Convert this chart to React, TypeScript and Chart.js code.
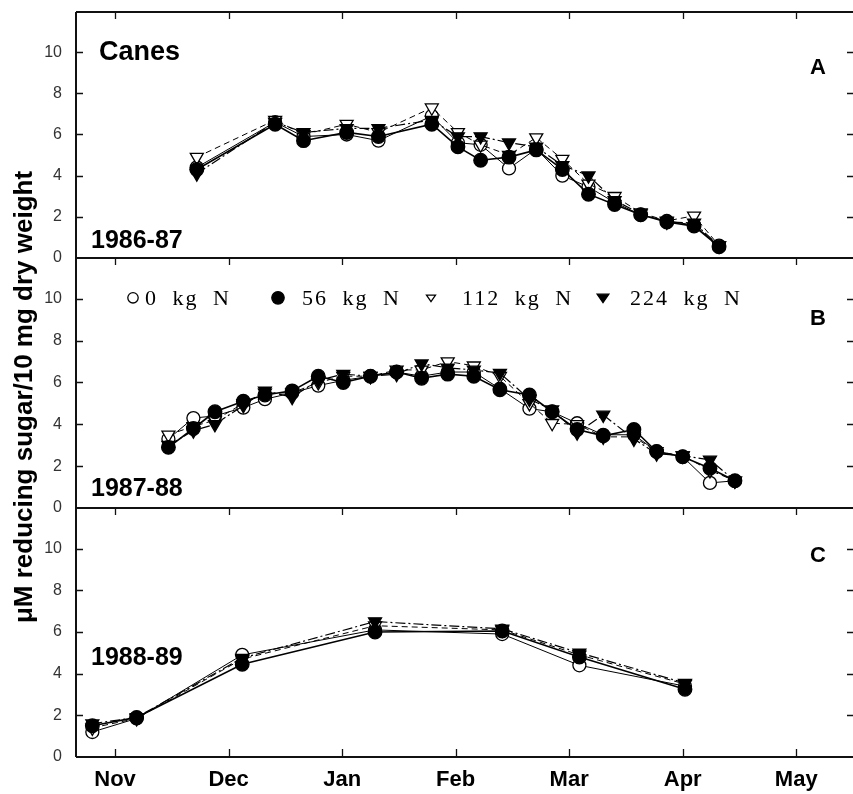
import React, { useEffect, useRef } from "react";
import { Chart, registerables } from "chart.js";
Chart.register(...registerables);

// ---- axis / tick labels ----
const monthLabels = ["Nov", "Dec", "Jan", "Feb", "Mar", "Apr", "May"];
const monthTicks = [0, 1, 2, 3, 4, 5, 6];
const yTickValues = [0, 2, 4, 6, 8, 10];
const seriesNames = ["0 kg N", "56 kg N", "112 kg N", "224 kg N"];
const yTitle = "\u03bcM reducing sugar/10 mg dry weight";
const panelYears = ["1986-87", "1987-88", "1988-89"];
const panelLetters = ["A", "B", "C"];

// ---- Panel A: 1986-87 (x in months after Nov 1) ----
const datesA = [0.72, 1.41, 1.66, 2.04, 2.32, 2.79, 3.02, 3.22, 3.47, 3.71, 3.94, 4.17, 4.4, 4.63, 4.86, 5.1, 5.32];
const a0 = [4.4, 6.6, 5.9, 6.0, 5.7, 6.9, 5.6, 5.5, 4.35, 5.3, 4.0, 3.45, 2.7, 2.1, 1.8, 1.6, 0.6];
const a56 = [4.3, 6.5, 5.7, 6.1, 5.9, 6.5, 5.4, 4.75, 4.9, 5.25, 4.3, 3.1, 2.6, 2.1, 1.75, 1.55, 0.55];
const a112 = [4.9, 6.7, 6.0, 6.5, 6.1, 7.3, 6.1, 5.5, 5.0, 5.85, 4.8, 3.6, 3.0, 2.2, 1.8, 2.05, 0.6];
const a224 = [4.1, 6.6, 6.1, 6.3, 6.3, 6.7, 5.9, 5.9, 5.6, 5.4, 4.5, 4.0, 2.8, 2.15, 1.75, 1.7, 0.6];

// ---- Panel B: 1987-88 ----
const datesB = [0.47, 0.69, 0.88, 1.13, 1.32, 1.56, 1.79, 2.01, 2.25, 2.48, 2.7, 2.93, 3.16, 3.39, 3.65, 3.85, 4.07, 4.3, 4.57, 4.77, 5.0, 5.24, 5.46];
const b0 = [3.3, 4.3, 4.4, 4.8, 5.2, 5.5, 5.85, 6.1, 6.3, 6.5, 6.3, 6.5, 6.5, 5.7, 4.75, 4.6, 4.05, 3.5, 3.5, 2.7, 2.45, 1.2, 1.3];
const b56 = [2.9, 3.8, 4.6, 5.1, 5.4, 5.6, 6.3, 6.0, 6.3, 6.5, 6.2, 6.4, 6.3, 5.65, 5.4, 4.6, 3.75, 3.45, 3.75, 2.7, 2.45, 1.9, 1.3];
const b112 = [3.5, 3.9, 4.2, 5.0, 5.5, 5.5, 6.0, 6.3, 6.3, 6.6, 6.6, 7.0, 6.8, 6.3, 5.0, 4.05, 4.0, 3.4, 3.4, 2.7, 2.5, 1.8, 1.3];
const b224 = [3.0, 3.7, 4.0, 4.9, 5.6, 5.3, 6.1, 6.4, 6.3, 6.4, 6.9, 6.7, 6.6, 6.45, 5.2, 4.7, 3.6, 4.45, 3.3, 2.6, 2.5, 2.3, 1.3];

// ---- Panel C: 1988-89 ----
const datesC = [-0.2, 0.19, 1.12, 2.29, 3.41, 4.09, 5.02];
const c0 = [1.2, 1.85, 4.9, 6.1, 5.9, 4.4, 3.4];
const c56 = [1.5, 1.9, 4.45, 6.0, 6.05, 4.8, 3.25];
const c112 = [1.4, 1.85, 4.7, 6.3, 6.1, 4.9, 3.5];
const c224 = [1.6, 1.9, 4.75, 6.5, 6.15, 5.0, 3.55];

const panels = [
  { id: "yA", dates: datesA, series: [a0, a56, a112, a224] },
  { id: "yB", dates: datesB, series: [b0, b56, b112, b224] },
  { id: "yC", dates: datesC, series: [c0, c56, c112, c224] },
];

// ---- styles ----
const seriesStyle = [
  { shape: "circle", fill: "#ffffff", rot: 0, dash: [] as number[], lw: 1, r: 6.5 },
  { shape: "circle", fill: "#000000", rot: 0, dash: [] as number[], lw: 1.6, r: 6.8 },
  { shape: "triangle", fill: "#ffffff", rot: 180, dash: [6, 4], lw: 1, r: 7.5 },
  { shape: "triangle", fill: "#000000", rot: 180, dash: [10, 3, 2, 3], lw: 1.2, r: 7.5 },
];
const drawOrder = [1, 3, 2, 0]; // first drawn on top in Chart.js
const FONT = "'Liberation Sans', Arial, Helvetica, sans-serif";
const SERIF = "'Liberation Serif', 'Times New Roman', serif";

function drawMarker(ctx: CanvasRenderingContext2D, s: number, x: number, y: number) {
  const st = seriesStyle[s];
  ctx.save();
  ctx.lineWidth = 1.3;
  ctx.strokeStyle = "#000";
  ctx.fillStyle = st.fill;
  ctx.beginPath();
  if (st.shape === "circle") {
    ctx.arc(x, y, s === 0 ? 5.2 : 6.2, 0, Math.PI * 2);
  } else {
    const r = s === 2 ? 5 : 6.5;
    ctx.moveTo(x - r * 0.9, y - r * 0.55);
    ctx.lineTo(x + r * 0.9, y - r * 0.55);
    ctx.lineTo(x, y + r * 0.75);
    ctx.closePath();
  }
  ctx.fill();
  ctx.stroke();
  ctx.restore();
}

const framePlugin = {
  id: "frame",
  afterDraw(chart: any) {
    const { ctx, chartArea: ca, scales } = chart;
    const xs = scales.x;
    const ys = [scales.yA, scales.yB, scales.yC];
    ctx.save();
    ctx.strokeStyle = "#111";
    ctx.lineWidth = 2;
    ctx.beginPath();
    ctx.moveTo(ca.left, ca.top);
    ctx.lineTo(ca.left, ca.bottom);
    ys.forEach((s: any) => {
      ctx.moveTo(ca.left, s.top);
      ctx.lineTo(ca.right, s.top);
    });
    ctx.moveTo(ca.left, ca.bottom);
    ctx.lineTo(ca.right, ca.bottom);
    ctx.stroke();

    ctx.lineWidth = 1.3;
    ctx.beginPath();
    ys.forEach((s: any) => {
      monthTicks.forEach((m) => {
        const px = Math.round(xs.getPixelForValue(m)) + 0.5;
        ctx.moveTo(px, s.top);
        ctx.lineTo(px, s.top + 7);
      });
      yTickValues.forEach((v) => {
        if (v === 0) return;
        const py = Math.round(s.getPixelForValue(v)) + 0.5;
        ctx.moveTo(ca.left, py);
        ctx.lineTo(ca.left + 7, py);
        ctx.moveTo(ca.right, py);
        ctx.lineTo(ca.right - 6, py);
      });
    });
    monthTicks.forEach((m) => {
      const px = Math.round(xs.getPixelForValue(m)) + 0.5;
      ctx.moveTo(px, ca.bottom);
      ctx.lineTo(px, ca.bottom - 8);
    });
    ctx.stroke();

    // panel texts
    ctx.fillStyle = "#000";
    ctx.textBaseline = "alphabetic";
    ctx.textAlign = "left";
    ctx.font = `bold 27px ${FONT}`;
    ctx.fillText("Canes", ca.left + 23, ys[0].getPixelForValue(9.6));
    const yearBase = [0.5, 0.55, 4.4];
    ctx.font = `bold 25px ${FONT}`;
    ys.forEach((s: any, i: number) => {
      ctx.fillText(panelYears[i], ca.left + 15, s.getPixelForValue(yearBase[i]));
    });
    const letterBase = [8.92, 8.77, 9.36];
    ctx.textAlign = "right";
    ctx.font = `bold 22px ${FONT}`;
    ys.forEach((s: any, i: number) => {
      ctx.fillText(panelLetters[i], ca.right - 27, s.getPixelForValue(letterBase[i]));
    });

    // legend inside panel B
    const ly = ys[1].getPixelForValue(10);
    const markerX = [133, 278, 431, 603];
    const textX = [145, 302, 462, 630];
    ctx.textAlign = "left";
    ctx.font = `22px ${SERIF}`;
    (ctx as any).letterSpacing = "2px";
    (ctx as any).wordSpacing = "7px";
    seriesNames.forEach((name, i) => {
      drawMarker(ctx, i, markerX[i], ly - 1);
      ctx.fillText(name, textX[i], ly + 6);
    });
    (ctx as any).letterSpacing = "0px";
    (ctx as any).wordSpacing = "0px";

    // y-axis title
    ctx.save();
    ctx.translate(25, 397);
    ctx.rotate(-Math.PI / 2);
    ctx.textAlign = "center";
    ctx.textBaseline = "middle";
    ctx.font = `bold 26px ${FONT}`;
    ctx.fillText(yTitle, 0, 0);
    ctx.restore();

    ctx.restore();
  },
};

export default function App() {
  const ref = useRef<HTMLCanvasElement>(null);
  useEffect(() => {
    document.body.style.margin = "0";
    const datasets: any[] = [];
    panels.forEach((p) => {
      drawOrder.forEach((s) => {
        const st = seriesStyle[s];
        datasets.push({
          label: seriesNames[s],
          yAxisID: p.id,
          data: p.dates.map((x, i) => ({ x, y: p.series[s][i] })),
          borderColor: "#000",
          borderWidth: st.lw,
          borderDash: st.dash,
          pointStyle: st.shape,
          pointRotation: st.rot,
          pointRadius: st.r,
          pointBackgroundColor: st.fill,
          pointBorderColor: "#000",
          pointBorderWidth: 1.3,
          fill: false,
          tension: 0,
        });
      });
    });

    const yScale = (weight: number) => ({
      type: "linear",
      position: "left",
      stack: "panels",
      stackWeight: weight,
      min: 0,
      max: 11.95,
      grid: { display: false, drawTicks: true, tickLength: 14 },
      border: { display: false },
      afterBuildTicks: (scale: any) => {
        scale.ticks = yTickValues.map((v) => ({ value: v }));
      },
      afterFit: (scale: any) => {
        scale.width = 76;
      },
      ticks: {
        padding: 0,
        color: "#333",
        font: { family: FONT, size: 16 },
        callback: (v: any) => String(v),
      },
    });

    const chart = new Chart(ref.current as HTMLCanvasElement, {
      type: "line",
      data: { datasets },
      options: {
        responsive: false,
        animation: false,
        events: [],
        layout: { autoPadding: false, padding: { left: 0, right: 0, top: 12, bottom: 0 } },
        plugins: { legend: { display: false }, tooltip: { enabled: false } },
        scales: {
          x: {
            type: "linear",
            min: -0.344,
            max: 6.5,
            grid: { display: false, drawTicks: true, tickLength: 10 },
            border: { display: false },
            afterBuildTicks: (scale: any) => {
              scale.ticks = monthTicks.map((v) => ({ value: v }));
            },
            afterFit: (scale: any) => {
              scale.height = 37;
            },
            ticks: {
              padding: 0,
              color: "#000",
              maxRotation: 0,
              font: { family: FONT, size: 22, weight: "bold" },
              callback: (v: any) => monthLabels[monthTicks.indexOf(Number(v))] ?? "",
            },
          },
          yC: yScale(249),
          yB: yScale(250),
          yA: yScale(246),
        } as any,
      },
      plugins: [framePlugin],
    } as any);
    return () => chart.destroy();
  }, []);
  return (
    <div style={{ width: 853, height: 794, position: "relative", background: "#fff", overflow: "hidden" }}>
      <canvas ref={ref} width={853} height={794} style={{ display: "block" }} />
    </div>
  );
}
